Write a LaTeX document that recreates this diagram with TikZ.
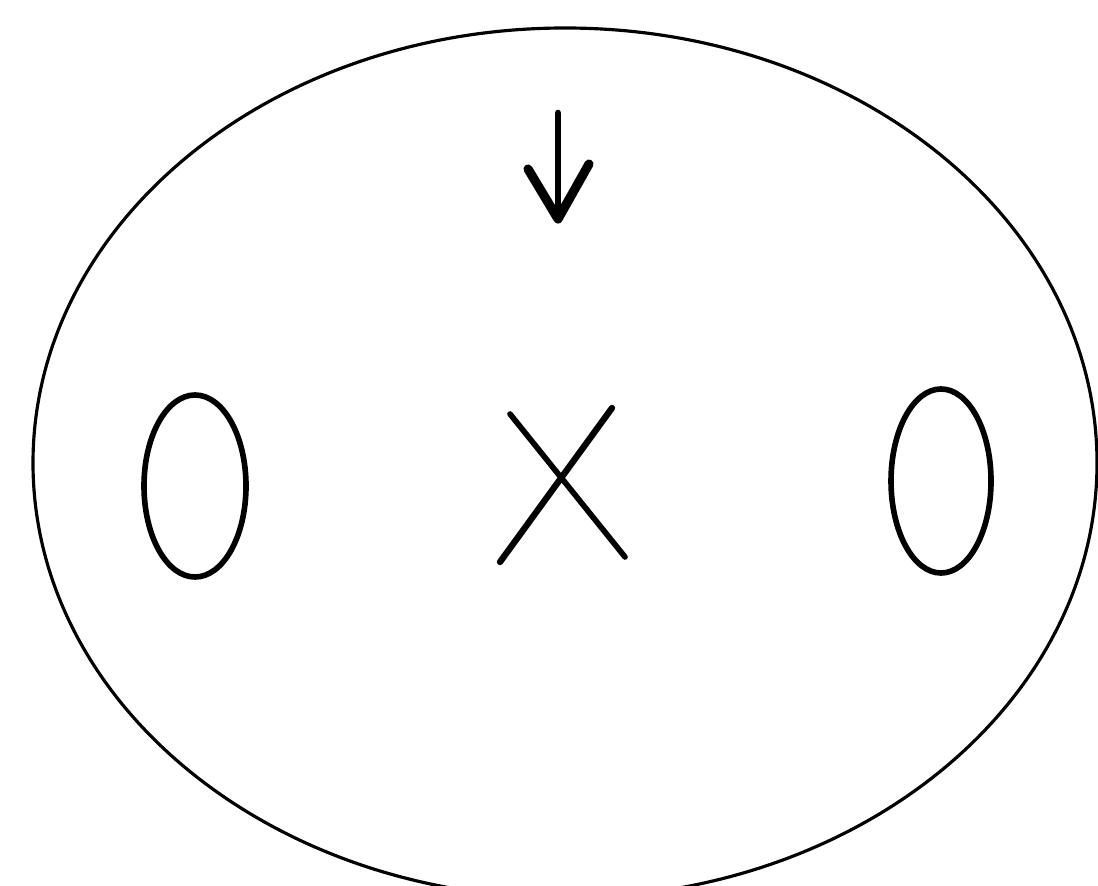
\documentclass[tikz,border=0pt]{standalone}
\usetikzlibrary{arrows.meta}

\begin{document}
\begin{tikzpicture}[
    x=0.01cm, y=-0.01cm,
    outline/.style={draw=black, line width=0.9pt},
    zero/.style={draw=black, line width=1.6pt},
    stroke/.style={draw=black, line width=1.9pt, line cap=round, line join=round}
  ]
    \useasboundingbox (0,0) rectangle (1098,886);
    \clip (0,0) rectangle (1098,886);

    % big outline
    \draw[outline] (565,463) ellipse [x radius=532, y radius=435];

    % arrow at the top
    \coordinate (tail) at (558,113);
    \coordinate (tip)  at (558,219);
    \draw[stroke] (tail) -- (tip);
    \draw[stroke, line width=2.6pt] (528,169) -- (tip) -- (589,164);

    % the two zeros
    \draw[zero] (195,486) ellipse [x radius=51, y radius=91];
    \draw[zero] (941,481) ellipse [x radius=50, y radius=92];

    % the cross
    \draw[stroke, line width=1.6pt] (510,414) -- (625,557);
    \draw[stroke, line width=1.8pt] (612,408) -- (500,562);
\end{tikzpicture}
\end{document}
